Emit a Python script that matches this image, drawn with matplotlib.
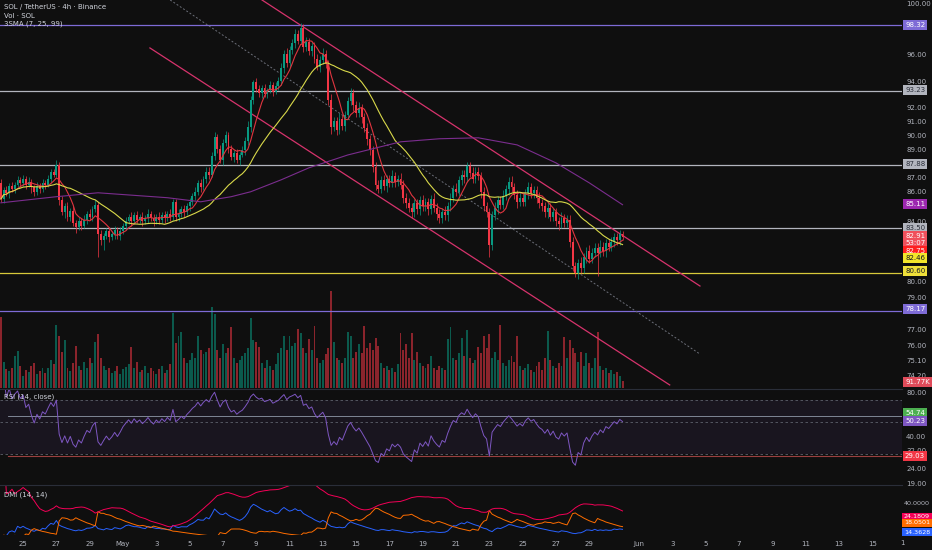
import matplotlib
matplotlib.use('Agg')
import matplotlib.pyplot as plt
import numpy as np
import pandas as pd

plt.rcParams['font.family'] = ['DejaVu Sans']

W, H = 932, 550
BG = '#0f0f0f'
TXT = '#b2b5be'
UP, DOWN = '#089981', '#f23645'
PURPLE = '#7e6bd6'
GRAY = '#b2b5be'
YELLOW = '#d8c93a'
PINK = '#d6336c'

# 4h closes, SOL/USDT, from Apr 23 16:00 (index 0) to May 31 00:00
close = [
    85.5, 86.1, 85.9, 86.4, 86.2,
    86.5, 86.8, 86.6, 86.9, 86.5, 86.7, 86.3, 86.0, 86.4, 86.2, 86.6, 86.5,
    86.9, 87.4, 87.2, 87.9,
    85.4,
    84.6, 85.0, 84.3, 84.7, 83.9, 83.6, 84.0,
    83.7, 84.1, 84.5, 84.3, 84.8, 85.1,
    83.1,
    82.7, 83.0, 83.3, 82.9, 83.1, 83.4, 83.0, 83.3,
    83.7, 84.0, 84.3, 84.0, 84.4,
    84.1, 84.3, 84.0, 84.2, 84.5, 84.2, 84.0, 84.3, 84.1, 84.4, 84.2, 84.5, 84.3,
    85.3, 84.3,
    84.5, 84.8, 84.6, 85.0, 85.3,
    85.7, 86.0, 86.6, 86.3, 86.9, 87.4, 87.2,
    88.5, 89.9,
    89.0, 88.2,
    89.4, 90.0, 89.0,
    88.4, 88.7, 88.2, 88.6, 88.9,
    89.6, 90.6,
    92.6, 93.9, 93.4,
    93.1, 93.5, 93.0, 93.3, 93.7, 93.2, 93.6, 94.0,
    95.0, 96.1, 95.4, 96.4,
    96.9, 97.6, 97.1, 98.1,
    96.6, 97.0, 96.3, 96.7,
    95.7, 95.1, 95.6, 96.1, 95.3,
    92.6, 90.6,
    91.0, 90.4, 91.2, 90.7, 91.5,
    92.5, 93.1,
    92.2, 91.6, 92.0, 91.3,
    90.5, 89.7, 88.9,
    87.7, 86.5, 86.2,
    86.8, 86.4, 86.9, 86.6, 87.1, 86.7, 86.9,
    86.5, 85.6, 85.2, 84.9,
    84.6, 85.2, 84.8, 85.4, 85.0,
    85.3, 84.8, 85.5, 84.9, 84.5, 84.2, 84.6,
    84.4, 85.0, 85.6, 86.2, 86.0, 86.8, 87.2, 87.0,
    87.8,
    87.3, 86.9, 87.4, 87.1,
    86.0, 85.0, 84.6, 82.4, 84.4,
    84.9, 85.4, 85.1, 85.7, 86.2, 86.7, 86.3,
    85.8, 85.3, 85.6, 85.3,
    85.9, 86.3, 85.9, 86.1,
    85.6, 85.2, 85.0, 84.6, 84.9,
    84.3, 84.6, 84.0, 83.8, 84.2, 83.9, 84.1,
    82.6, 81.0, 80.6, 81.2, 80.9,
    81.6, 82.0, 81.5, 81.9, 82.2,
    81.9, 82.3, 82.0, 82.5, 82.3,
    82.6, 82.9, 82.7, 83.1, 82.91,
]
first_open = 86.6

# wick lengths above / below the body, in 0.1 USDT
up_wick = [
    3, 2, 3, 2, 3, 2, 3, 2, 3, 2, 3, 2, 2, 3, 2, 3, 2, 3, 2, 2, 3, 2, 3, 2, 3,
    2, 3, 2, 3, 2, 3, 2, 3, 2, 3, 2, 3, 2, 2, 3, 2, 3, 2, 3, 2, 3, 2, 3, 2, 3,
    2, 3, 2, 3, 2, 3, 2, 3, 2, 3, 2, 3, 2, 2, 3, 2, 3, 2, 3, 2, 3, 2, 3, 2, 3,
    3, 3, 3, 2, 3, 3, 3, 2, 3, 2, 3, 2, 3, 3, 4, 3, 2, 3, 3, 2, 3, 2, 3, 2, 3,
    3, 4, 3, 4, 3, 3, 4, 3, 4, 3, 4, 3, 3, 3, 4, 3, 4, 3, 3, 4, 3, 3, 4, 3, 3,
    3, 4, 3, 3, 4, 3, 3, 4, 3, 3, 4, 3, 3, 4, 3, 3, 4, 3, 3, 4, 3, 3, 4, 3, 3,
    3, 3, 4, 3, 3, 3, 4, 3, 3, 3, 4, 3, 3, 3, 4, 3, 3, 3, 3, 3, 4, 3, 3, 3, 3,
    3, 3, 3, 4, 3, 3, 4, 3, 3, 4, 3, 3, 4, 3, 3, 4, 3, 3, 3, 4, 3, 3, 4, 3, 3,
    3, 3, 4, 3, 3, 3, 3, 3, 3, 4, 3, 3, 4, 3, 3, 3, 4, 3, 3, 3, 3, 3, 3, 3, 2,
]
low_wick = [
    2, 3, 2, 3, 2, 3, 2, 3, 2, 3, 2, 4, 3, 2, 3, 2, 3, 2, 3, 2, 2, 3, 2, 4, 3,
    3, 2, 4, 2, 3, 2, 3, 2, 3, 2, 15, 3, 6, 2, 3, 2, 3, 2, 3, 2, 3, 2, 3, 2, 2,
    2, 3, 2, 3, 2, 3, 2, 3, 2, 3, 2, 3, 2, 3, 3, 2, 3, 2, 3, 2, 3, 2, 3, 2, 3,
    3, 2, 3, 3, 2, 3, 2, 3, 2, 3, 2, 3, 2, 3, 3, 4, 3, 2, 3, 4, 2, 3, 2, 3, 2,
    3, 3, 4, 3, 3, 3, 4, 3, 3, 4, 3, 3, 4, 3, 3, 4, 3, 3, 4, 5, 3, 4, 3, 3, 4,
    3, 3, 4, 3, 3, 4, 3, 4, 3, 3, 4, 3, 3, 3, 4, 3, 3, 4, 3, 3, 4, 3, 3, 4, 3,
    3, 4, 3, 3, 4, 3, 3, 4, 3, 3, 3, 4, 3, 3, 3, 3, 3, 4, 3, 3, 3, 3, 3, 4, 3,
    3, 8, 3, 3, 4, 3, 3, 3, 4, 3, 3, 4, 3, 3, 3, 4, 3, 3, 4, 3, 3, 3, 4, 3, 3,
    3, 4, 3, 3, 3, 3, 3, 3, 4, 3, 3, 4, 3, 3, 3, 15, 3, 3, 4, 3, 3, 3, 3, 3, 2,
]

# volume in thousands of SOL
volume_k = [
    923, 338, 247, 221, 260, 416, 481, 286,
    156, 234, 208, 286, 325, 182, 221, 260, 195,
    260, 364, 312, 819, 676, 468, 624,
    260, 221, 325, 546, 286, 234, 338, 260, 390, 325,
    598, 702,
    390, 286, 234, 260, 195, 221, 286, 182, 247, 273,
    312, 533, 260, 338, 208, 234, 286, 195, 260, 221, 182, 247, 286, 195, 234,
    312, 975, 585, 676, 728, 390, 325, 364, 455, 390, 676, 494, 442, 468, 520, 1053, 962,
    494, 390, 572, 455, 520, 793, 390, 325, 364, 416, 455, 520, 910, 624, 598,
    533, 325, 260, 364, 286, 234, 312, 455, 520, 676, 494, 676, 546, 585, 767, 715, 520,
    455, 637, 494, 806, 390, 325, 364, 442, 520, 1261,
    598, 390, 364, 325, 390, 728, 676, 390, 468, 572, 455, 806, 520, 585, 494, 650, 546,
    325, 260, 286, 234, 260, 208, 312, 715, 494, 572, 390, 715, 364, 468, 325, 286, 260,
    312, 416, 260, 234, 286, 260, 234,
    637, 793, 390, 364, 455, 650, 416, 754, 390, 325, 364, 533, 455, 676, 520, 702, 390,
    468, 364, 819,
    325, 286, 364, 416, 338, 676, 286, 234, 260, 312, 234, 208,
    286, 338, 234, 390, 741, 364, 286, 260,
    325, 286, 663, 390, 624, 520, 455, 338, 468, 286, 455, 325, 260, 390, 728, 286, 234,
    260, 195, 234, 182, 208, 156, 91.77,
]

# SMA 99 (candle index, price)
ma99_idx = [0, 20, 35, 60, 72, 83, 90, 101, 111, 125, 144, 158, 172, 186, 200, 212, 224]
ma99_val = [85.24, 85.66, 85.93, 85.59, 85.31, 85.66, 86.0, 86.83, 87.67, 88.58,
            89.52, 89.74, 89.81, 89.30, 88.02, 86.62, 85.11]

# horizontal levels
level_vals = [98.32, 93.23, 87.88, 83.50, 80.60, 78.17]
level_cols = [PURPLE, GRAY, GRAY, GRAY, YELLOW, PURPLE]

# channel (candle index, price) end points
chan_upper = ([94.1, 251.9], [100.32, 79.73])
chan_lower = ([53.7, 241.0], [96.53, 73.64])
chan_mid = ([61.0, 251.9], [100.32, 75.49])

# time axis: days from May 1, 6 candles a day, May 1 00:00 = index 44
tick_days = [-6, -4, -2, 0, 2, 4, 6, 8, 10, 12, 14, 16, 18, 20, 22, 24, 26, 28,
             31, 33, 35, 37, 39, 41, 43, 45]
tick_labels = ['25', '27', '29', 'May', '3', '5', '7', '9', '11', '13', '15', '17', '19',
               '21', '23', '25', '27', '29', 'Jun', '3', '5', '7', '9', '11', '13', '15']

price_ticks = [100, 96, 94, 92, 91, 90, 89, 87, 86, 84, 80, 79, 77, 76, 75.1, 74.2]
rsi_ticks = [80, 40, 32, 24, 19]

n = len(close)
idx = np.arange(n)
c = np.array(close)
o = np.concatenate([[first_open], c[:-1]])
hi = np.maximum(o, c) + np.array(up_wick[:n]) / 10
lo = np.minimum(o, c) - np.array(low_wick[:n]) / 10
up = c >= o

# indicators
s = pd.Series(c)
ma7 = s.rolling(7, min_periods=1).mean()
ma25 = s.rolling(25, min_periods=1).mean()

def rma(x):
    return pd.Series(x).ewm(alpha=1 / 14, adjust=True).mean()

d = s.diff().fillna(0)
rsi = 100 - 100 / (1 + rma(d.clip(lower=0)) / rma(-d.clip(upper=0)))

hs, ls = pd.Series(hi), pd.Series(lo)
upm, dnm = hs.diff(), -ls.diff()
pdm = np.where((upm > dnm) & (upm > 0), upm, 0.0)
mdm = np.where((dnm > upm) & (dnm > 0), dnm, 0.0)
pc = s.shift(1)
tr = pd.concat([hs - ls, (hs - pc).abs(), (ls - pc).abs()], axis=1).max(axis=1)
atr = rma(tr)
pdi = 100 * rma(pdm) / atr
mdi = 100 * rma(mdm) / atr
adx = rma(100 * (pdi - mdi).abs() / (pdi + mdi))

# figure
fig = plt.figure(figsize=(W / 100, H / 100), dpi=100, facecolor=BG)
pw = 902 / W
ax = fig.add_axes([0, 1 - 388 / H, pw, 388 / H])
ax2 = fig.add_axes([0, 1 - 484 / H, pw, 95 / H], sharex=ax)
ax3 = fig.add_axes([0, 1 - 535 / H, pw, 50 / H], sharex=ax)

vax = ax.twinx()
ax.set_zorder(2)
ax.patch.set_visible(False)
vax.set_zorder(1)
vax.patch.set_facecolor(BG)

for a in (ax, ax2, ax3):
    a.set_facecolor(BG)
    for sp in a.spines.values():
        sp.set_visible(False)
    a.tick_params(length=0, colors=TXT, labelsize=5)

# volume
vcol = [UP if u else DOWN for u in up]
vax.bar(idx, volume_k, width=0.7, color=vcol, alpha=0.55, linewidth=0)
vax.set_ylim(0, 5050)
vax.axis('off')

# candles
ccol = [UP if u else DOWN for u in up]
ax.vlines(idx, lo, hi, colors=ccol, linewidth=0.5, zorder=3)
ax.bar(idx, np.maximum(np.abs(c - o), 0.04), bottom=np.minimum(o, c), width=0.68,
       color=ccol, linewidth=0, zorder=4)

ax.plot(idx, ma7, color='#e0353f', lw=0.8, zorder=5)
ax.plot(idx, ma25, color='#d9d94a', lw=0.8, zorder=5)
ax.plot(ma99_idx, ma99_val, color='#7b2d8e', lw=0.8, zorder=5)

for v, col in zip(level_vals, level_cols):
    ax.axhline(v, color=col, lw=0.9, zorder=2)

ax.plot(*chan_upper, color=PINK, lw=0.9, zorder=2)
ax.plot(*chan_lower, color=PINK, lw=0.9, zorder=2)
ax.plot(*chan_mid, color='#6b6e78', lw=0.7, dashes=(2, 2), zorder=2)

ax.set_yscale('log')
ax.set_ylim(73.46, 100.32)
ax.set_xlim(-0.32, 324.7)
ax.yaxis.tick_right()
ax.yaxis.set_minor_locator(matplotlib.ticker.NullLocator())
ax.set_yticks(price_ticks, ['%.2f' % t for t in price_ticks])
ax.tick_params(axis='y', pad=3)
ax.tick_params(axis='x', labelbottom=False)

# RSI pane
ax2.axhspan(30, 70, color='#7e57c2', alpha=0.09, lw=0)
for v in (70, 50, 30):
    ax2.axhline(v, color='#5d606b', lw=0.6, dashes=(3, 3))
ax2.plot([2.5, 324.7], [54.74, 54.74], color='#8f98a8', lw=0.6)
ax2.plot([2.5, 324.7], [29.03, 29.03], color='#9a4040', lw=0.8)
ax2.plot(idx, rsi, color='#7e57c2', lw=0.7)
ax2.set_yscale('log')
ax2.set_ylim(18.79, 83.87)
ax2.yaxis.tick_right()
ax2.yaxis.set_minor_locator(matplotlib.ticker.NullLocator())
ax2.set_yticks(rsi_ticks, ['%.2f' % t for t in rsi_ticks])
ax2.tick_params(axis='y', pad=3)
ax2.tick_params(axis='x', labelbottom=False)
ax2.spines['top'].set_visible(True)
ax2.spines['top'].set_color('#2a2e39')

# DMI pane
ax3.plot(idx, pdi, color='#2962ff', lw=0.7)
ax3.plot(idx, mdi, color='#ff6d00', lw=0.7)
ax3.plot(idx, adx, color='#f50057', lw=0.7)
ax3.set_ylim(4, 60)
ax3.yaxis.tick_right()
ax3.set_yticks([40], ['40.0000'])
ax3.tick_params(axis='y', pad=1, labelsize=4.6)
ax3.spines['top'].set_visible(True)
ax3.spines['top'].set_color('#2a2e39')
ax3.set_xticks([6 * t + 44 for t in tick_days], tick_labels)
ax3.tick_params(axis='x', pad=4)
fig.text(902 / W, 1 - 543 / H, '1', ha='center', va='center', fontsize=5, color=TXT)

# legend texts
for y, t in [(7, 'SOL / TetherUS · 4h · Binance'), (16, 'Vol · SOL'), (24, '3SMA (7, 25, 99)')]:
    fig.text(4 / W, 1 - y / H, t, fontsize=5, color='#d1d4dc', va='center')
fig.text(4 / W, 1 - 397 / H, 'RSI (14, close)', fontsize=5, color='#d1d4dc', va='center')
fig.text(4 / W, 1 - 495 / H, 'DMI (14, 14)', fontsize=5, color='#d1d4dc', va='center')

# value tags on the scale
def tag(y, text, bg, fg='white', x=905, size=5):
    fig.text(x / W, 1 - y / H, text, ha='left', va='center', fontsize=size, color=fg,
             bbox=dict(boxstyle='square,pad=0.3', fc=bg, ec='none'), zorder=10)

tag(25, '98.32', PURPLE)
tag(90, '93.23', GRAY, '#2a2e39')
tag(164, '87.88', GRAY, '#2a2e39')
tag(204, '85.11', '#9c27b0')
tag(228, '83.50', GRAY, '#2a2e39')
tag(240, '82.91\n53:07', '#f0505c')
tag(251, '82.75', '#ff1f1f')
tag(258, '82.46', '#f2e52a', '#131722')
tag(271, '80.60', '#efe03a', '#131722')
tag(309, '78.17', PURPLE)
tag(382, '91.77K', '#e04b5a')
tag(413, '54.74', '#4caf50')
tag(421, '50.23', '#7e57c2')
tag(456, '29.03', '#f23645')
tag(517, '24.1809', '#f50057', x=904, size=4.6)
tag(523, '18.0501', '#ff6d00', x=904, size=4.6)
tag(532, '14.3628', '#2962ff', x=904, size=4.6)

fig.savefig('out.png', dpi=100, facecolor=BG)
